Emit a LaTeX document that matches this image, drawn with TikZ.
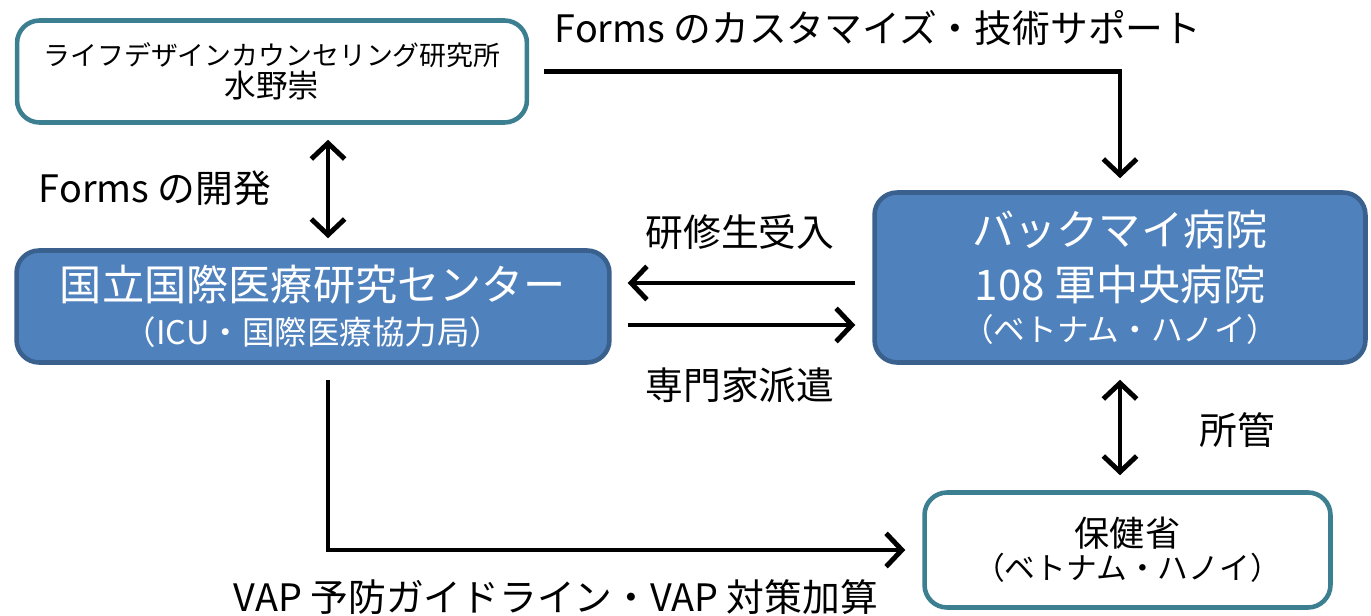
\documentclass[tikz,border=0pt]{standalone}
\usepackage{fontspec}
\setmainfont{Noto Sans CJK JP}
\usetikzlibrary{arrows.meta, positioning, calc}

\definecolor{tealline}{RGB}{59,127,145}
\definecolor{boxblue}{RGB}{79,129,189}
\definecolor{blueline}{RGB}{58,96,142}
\newcommand{\fsz}[2]{\fontsize{#1}{#2}\selectfont}

\begin{document}
\begin{tikzpicture}[x=0.02cm, y=-0.02cm,
	whitebox/.style={draw=tealline, line width=2.6pt, rounded corners=0.45cm, fill=white, align=center, inner sep=0pt},
	bluebox/.style={draw=blueline, line width=2.6pt, rounded corners=0.45cm, fill=boxblue, text=white, align=center, inner sep=0pt},
	arr/.style={line width=2.8pt, -{Straight Barb[length=9pt, width=19pt, line width=2.8pt]}},
	darr/.style={line width=2.8pt, {Straight Barb[length=9pt, width=19pt, line width=2.8pt]}-{Straight Barb[length=9pt, width=19pt, line width=2.8pt]}},
	lbl/.style={font=\fsz{21.5}{25}, inner sep=0pt}]
	
	%//page frame in pixels of the reference
	\useasboundingbox (0,0) rectangle (1371,615);
	
	%//boxes
	\node[whitebox, minimum width=10.2cm, minimum height=2.04cm] (lfd) at (272,71.5)
	{\fsz{15.3}{18}ライフデザインカウンセリング研究所\\[1pt]\fsz{18}{21}水野崇};
	
	\node[bluebox, minimum width=11.86cm, minimum height=2.24cm] (ncgm) at (313,306.5)
	{\fsz{24}{28}国立国際医療研究センター\\[6pt]\fsz{18.5}{21}（ICU・国際医療協力局）};
	
	\node[bluebox, minimum width=9.82cm, minimum height=3.4cm] (bach) at (1120,277.5)
	{\fsz{24}{28}バックマイ病院\\[8pt]\fsz{24}{28}108 軍中央病院\\[5pt]\fsz{18}{21}（ベトナム・ハノイ）};
	
	\node[whitebox, minimum width=8.12cm, minimum height=2.3cm] (moh) at (1127.5,550)
	{\fsz{20}{23}保健省\\[1pt]\fsz{17.5}{20}（ベトナム・ハノイ）};
	
	%//labels
	\node[lbl] (tsup) at (878,28) {Forms のカスタマイズ・技術サポート};
	\node[lbl] (dev) at (155,188) {Forms の開発};
	\node[lbl] (recv) at (740,232) {研修生受入};
	\node[lbl] (disp) at (740,385) {専門家派遣};
	\node[lbl] (juris) at (1237,430) {所管};
	\node[lbl] (vap) at (556,597) {VAP 予防ガイドライン・VAP 対策加算};
	
	%//connectors
	\draw[arr, shorten <=0.3cm, shorten >=0.24cm] (lfd.east) -| (bach.north);
	\draw[darr, shorten <=0.3cm, shorten >=0.2cm] (lfd.south -| 328,0) -- (ncgm.north -| 328,0);
	\draw[arr, shorten <=0.34cm, shorten >=0.32cm] (bach.west |- 0,283) -- (ncgm.east |- 0,283);
	\draw[arr, shorten <=0.32cm, shorten >=0.34cm] (ncgm.east |- 0,325) -- (bach.west |- 0,325);
	\draw[darr, shorten <=0.3cm, shorten >=0.3cm] (bach.south -| 1120,0) -- (moh.north -| 1120,0);
	\draw[arr, shorten <=0.3cm, shorten >=0.34cm] (ncgm.south -| 328,0) |- (moh.west);
	
\end{tikzpicture}
\end{document}
